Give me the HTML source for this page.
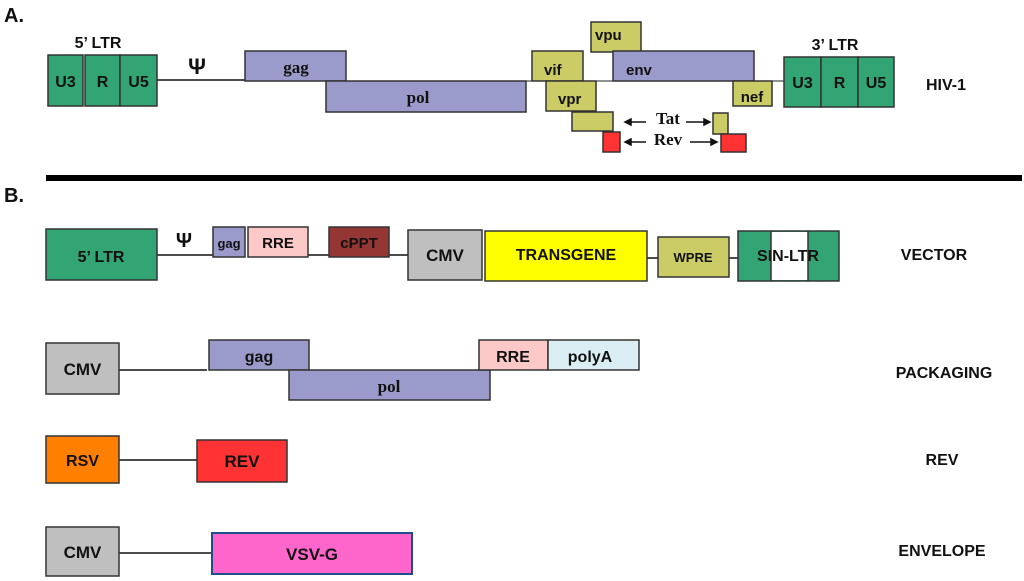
<!DOCTYPE html>
<html><head><meta charset="utf-8"><style>
html,body{margin:0;padding:0;background:#fff}
svg{display:block}
.s{font-family:"Liberation Sans",sans-serif;font-weight:bold;fill:#111}
.r{font-family:"Liberation Serif",serif;font-weight:bold;fill:#111}
</style></head><body>
<svg width="1024" height="581" viewBox="0 0 1024 581" xmlns="http://www.w3.org/2000/svg">
<g stroke="#333" stroke-width="1.5">
<!-- A lines -->
<line x1="157" y1="80" x2="245" y2="80" stroke="#111"/>
<line x1="520" y1="81" x2="784" y2="81" stroke="#222" stroke-width="1"/>
<!-- A boxes -->
<rect x="48" y="55" width="35" height="51" fill="#33a474"/>
<rect x="85" y="55" width="35" height="51" fill="#33a474"/>
<rect x="120" y="55" width="37" height="51" fill="#33a474"/>
<rect x="245" y="51" width="101" height="30" fill="#9b9bcb"/>
<rect x="326" y="81" width="200" height="31" fill="#9b9bcb"/>
<rect x="591" y="22" width="50" height="30" fill="#cccc66"/>
<rect x="532" y="51" width="51" height="30" fill="#cccc66"/>
<rect x="613" y="51" width="141" height="30" fill="#9b9bcb"/>
<rect x="546" y="81" width="50" height="30" fill="#cccc66"/>
<rect x="733" y="81" width="39" height="25" fill="#cccc66"/>
<rect x="784" y="57" width="37" height="50" fill="#33a474"/>
<rect x="821" y="57" width="37" height="50" fill="#33a474"/>
<rect x="858" y="57" width="36" height="50" fill="#33a474"/>
<rect x="572" y="112" width="41" height="19" fill="#cccc66"/>
<rect x="603" y="132" width="17" height="20" fill="#f33"/>
<rect x="713" y="113" width="15" height="21" fill="#cccc66"/>
<rect x="721" y="134" width="25" height="18" fill="#f33"/>
</g>
<!-- Tat/Rev arrows -->
<g stroke="#111" stroke-width="1.5" fill="#111">
<line x1="628" y1="122" x2="646" y2="122"/><polygon points="625,122 631,119 631,125"/>
<line x1="686" y1="122" x2="705" y2="122"/><polygon points="710,122 704,119 704,125"/>
<line x1="628" y1="142" x2="646" y2="142"/><polygon points="625,142 631,139 631,145"/>
<line x1="690" y1="142" x2="712" y2="142"/><polygon points="717,142 711,139 711,145"/>
</g>
<text class="r" x="668" y="124" font-size="17" text-anchor="middle">Tat</text>
<text class="r" x="668" y="145" font-size="17" text-anchor="middle">Rev</text>
<!-- A text -->
<text class="s" x="4" y="22" font-size="20">A.</text>
<text class="s" x="98" y="48" font-size="16" text-anchor="middle">5’ LTR</text>
<text class="s" x="197" y="74" font-size="22" text-anchor="middle">Ψ</text>
<text class="s" x="65.5" y="87" font-size="16" text-anchor="middle">U3</text>
<text class="s" x="102.5" y="87" font-size="16" text-anchor="middle">R</text>
<text class="s" x="138.5" y="87" font-size="16" text-anchor="middle">U5</text>
<text class="r" x="296" y="73" font-size="17" text-anchor="middle">gag</text>
<text class="r" x="418" y="103" font-size="17" text-anchor="middle">pol</text>
<text class="s" x="595" y="40" font-size="15">vpu</text>
<text class="s" x="544" y="75" font-size="15">vif</text>
<text class="s" x="626" y="75" font-size="15">env</text>
<text class="s" x="558" y="104" font-size="15">vpr</text>
<text class="s" x="752" y="102" font-size="15" text-anchor="middle">nef</text>
<text class="s" x="835" y="50" font-size="16" text-anchor="middle">3’ LTR</text>
<text class="s" x="802.5" y="88" font-size="16" text-anchor="middle">U3</text>
<text class="s" x="839.5" y="88" font-size="16" text-anchor="middle">R</text>
<text class="s" x="876" y="88" font-size="16" text-anchor="middle">U5</text>
<text class="s" x="946" y="90" font-size="16" text-anchor="middle">HIV-1</text>
<!-- separator -->
<rect x="46" y="175" width="976" height="6" fill="#000"/>
<text class="s" x="4" y="202" font-size="20">B.</text>
<!-- B lines -->
<g stroke="#111" stroke-width="1.5">
<line x1="157" y1="255" x2="213" y2="255"/>
<line x1="308" y1="255" x2="329" y2="255"/>
<line x1="389" y1="255" x2="408" y2="255"/>
<line x1="647" y1="258" x2="658" y2="258"/>
<line x1="729" y1="258" x2="738" y2="258"/>
<line x1="119" y1="370" x2="207" y2="370"/>
<line x1="119" y1="460" x2="197" y2="460"/>
<line x1="119" y1="553" x2="212" y2="553"/>
</g>
<g stroke="#333" stroke-width="1.5">
<rect x="46" y="229" width="111" height="51" fill="#33a474"/>
<rect x="213" y="227" width="32" height="30" fill="#9b9bcb"/>
<rect x="248" y="227" width="60" height="30" fill="#fcc8c8"/>
<rect x="329" y="227" width="60" height="30" fill="#943634"/>
<rect x="408" y="230" width="74" height="50" fill="#bfbfbf"/>
<rect x="485" y="231" width="162" height="50" fill="#ffff00"/>
<rect x="658" y="237" width="71" height="40" fill="#cccc66"/>
<rect x="738" y="231" width="101" height="50" fill="#33a474"/>
<rect x="771" y="232" width="37" height="48" fill="#fff" stroke="none"/>
<line x1="771" y1="231" x2="771" y2="281"/><line x1="808" y1="231" x2="808" y2="281"/>
<rect x="46" y="343" width="73" height="51" fill="#bfbfbf"/>
<rect x="209" y="340" width="100" height="30" fill="#9b9bcb"/>
<rect x="289" y="370" width="201" height="30" fill="#9b9bcb"/>
<rect x="479" y="340" width="69" height="30" fill="#fcc8c8"/>
<rect x="548" y="340" width="91" height="30" fill="#daeef3"/>
<rect x="46" y="436" width="73" height="47" fill="#ff8000"/>
<rect x="197" y="440" width="90" height="42" fill="#f33"/>
<rect x="46" y="527" width="73" height="49" fill="#bfbfbf"/>
<rect x="212" y="533" width="200" height="41" fill="#ff66cc" stroke="#1f4e8c" stroke-width="2"/>
</g>
<text class="s" x="101" y="262" font-size="16" text-anchor="middle">5’ LTR</text>
<text class="s" x="184" y="247" font-size="20" text-anchor="middle">Ψ</text>
<text class="s" x="229" y="248" font-size="13" text-anchor="middle">gag</text>
<text class="s" x="278" y="248" font-size="15" text-anchor="middle">RRE</text>
<text class="s" x="359" y="248" font-size="15" text-anchor="middle" fill="#111">cPPT</text>
<text class="s" x="445" y="261" font-size="17" text-anchor="middle">CMV</text>
<text class="s" x="566" y="260" font-size="16" text-anchor="middle">TRANSGENE</text>
<text class="s" x="693" y="262" font-size="13" text-anchor="middle">WPRE</text>
<text class="s" x="788" y="261" font-size="16" text-anchor="middle">SIN-LTR</text>
<text class="s" x="934" y="260" font-size="16" text-anchor="middle">VECTOR</text>
<text class="s" x="82.5" y="375" font-size="17" text-anchor="middle">CMV</text>
<text class="s" x="259" y="362" font-size="16" text-anchor="middle">gag</text>
<text class="r" x="389" y="392" font-size="17" text-anchor="middle">pol</text>
<text class="s" x="513" y="362" font-size="16" text-anchor="middle">RRE</text>
<text class="s" x="590" y="362" font-size="16" text-anchor="middle">polyA</text>
<text class="s" x="944" y="378" font-size="16" text-anchor="middle">PACKAGING</text>
<text class="s" x="82.5" y="466" font-size="16" text-anchor="middle">RSV</text>
<text class="s" x="242" y="467" font-size="17" text-anchor="middle">REV</text>
<text class="s" x="942" y="465" font-size="16" text-anchor="middle">REV</text>
<text class="s" x="82.5" y="558" font-size="17" text-anchor="middle">CMV</text>
<text class="s" x="312" y="560" font-size="17" text-anchor="middle">VSV-G</text>
<text class="s" x="942" y="556" font-size="16" text-anchor="middle">ENVELOPE</text>
</svg>
</body></html>
